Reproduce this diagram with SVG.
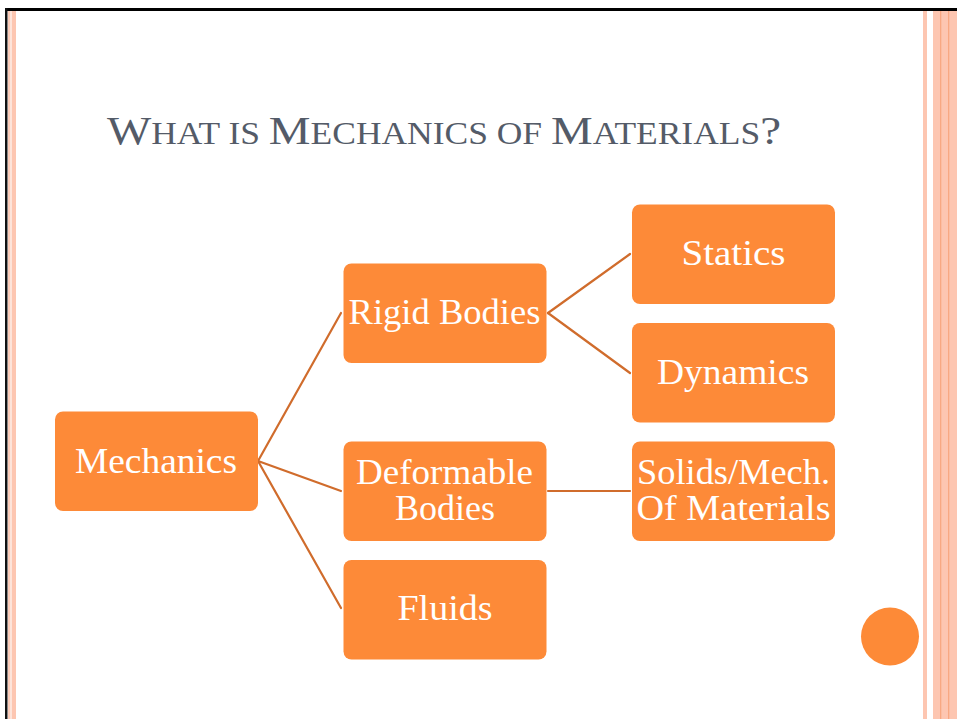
<svg xmlns="http://www.w3.org/2000/svg" width="957" height="719" viewBox="0 0 957 719">
  <style>
    .node rect { fill: #fd8a38; }
    .node text { fill: #ffffff; font-family: "Liberation Serif", "DejaVu Serif", serif; font-size: 35px; text-anchor: middle; }
    .links line { stroke: #d06c2c; stroke-width: 2.2; stroke-linecap: round; }
    .title { fill: #545b68; font-family: "Liberation Serif", "DejaVu Serif", serif; }
    .big { font-size: 41px; }
    .sc { font-size: 31px; }
    .stripe { fill: #fdc6b1; }
    .stripe-dark { fill: #f8a882; }
  </style>

  <!-- slide background and frame -->
  <rect x="0" y="0" width="957" height="719" fill="#ffffff"/>
  <rect x="5" y="8" width="952" height="3" fill="#000000"/>
  <rect x="5" y="8" width="2.5" height="711" fill="#111111"/>

  <!-- left edge stripes -->
  <rect x="8" y="11" width="2" height="708" fill="#fccdba"/>
  <rect x="10" y="11" width="2" height="708" fill="#fde4da"/>
  <rect x="12" y="11" width="4" height="708" class="stripe"/>

  <!-- right edge stripes -->
  <rect x="923" y="11" width="4" height="708" class="stripe"/>
  <rect x="933" y="11" width="24" height="708" class="stripe"/>
  <rect x="940" y="11" width="1.3" height="708" class="stripe-dark"/>
  <rect x="948" y="11" width="1.3" height="708" class="stripe-dark"/>

  <!-- title in small caps -->
  <text class="title" x="107" y="144" textLength="674" lengthAdjust="spacingAndGlyphs"><tspan class="big">W</tspan><tspan class="sc">HAT IS </tspan><tspan class="big">M</tspan><tspan class="sc">ECHANICS OF </tspan><tspan class="big">M</tspan><tspan class="sc">ATERIALS</tspan><tspan class="big">?</tspan></text>

  <!-- connectors -->
  <g id="connectors" class="links">
    <line x1="258" y1="461" x2="341" y2="313"/>
    <line x1="258" y1="461" x2="341" y2="491"/>
    <line x1="258" y1="461" x2="341" y2="608"/>
    <line x1="548" y1="313" x2="630" y2="254"/>
    <line x1="548" y1="313" x2="630" y2="373"/>
    <line x1="548" y1="491" x2="630" y2="491"/>
  </g>

  <!-- nodes -->
  <g id="mechanics" class="node">
    <rect x="55" y="411.5" width="203" height="99.5" rx="8"/>
    <text x="156" y="472.5" textLength="162" lengthAdjust="spacingAndGlyphs">Mechanics</text>
  </g>
  <g id="rigid-bodies" class="node">
    <rect x="343.5" y="263.5" width="203" height="99.5" rx="8"/>
    <text x="444.5" y="324" textLength="192" lengthAdjust="spacingAndGlyphs">Rigid Bodies</text>
  </g>
  <g id="deformable-bodies" class="node">
    <rect x="343.5" y="441.5" width="203" height="99.5" rx="8"/>
    <text x="444.5" y="483.5" textLength="177" lengthAdjust="spacingAndGlyphs">Deformable</text>
    <text x="445" y="520" textLength="100" lengthAdjust="spacingAndGlyphs">Bodies</text>
  </g>
  <g id="fluids" class="node">
    <rect x="343.5" y="560" width="203" height="99.5" rx="8"/>
    <text x="445" y="620" textLength="95" lengthAdjust="spacingAndGlyphs">Fluids</text>
  </g>
  <g id="statics" class="node">
    <rect x="632" y="204.5" width="203" height="99.5" rx="8"/>
    <text x="733.5" y="265" textLength="104" lengthAdjust="spacingAndGlyphs">Statics</text>
  </g>
  <g id="dynamics" class="node">
    <rect x="632" y="323" width="203" height="99.5" rx="8"/>
    <text x="733" y="383.5" textLength="152" lengthAdjust="spacingAndGlyphs">Dynamics</text>
  </g>
  <g id="solids" class="node">
    <rect x="632" y="441.5" width="203" height="99.5" rx="8"/>
    <text x="733.5" y="483.5" textLength="193" lengthAdjust="spacingAndGlyphs">Solids/Mech.</text>
    <text x="733.5" y="520" textLength="194" lengthAdjust="spacingAndGlyphs">Of Materials</text>
  </g>

  <!-- corner dot -->
  <circle cx="890" cy="636.5" r="29" fill="#fd8a37"/>
</svg>
